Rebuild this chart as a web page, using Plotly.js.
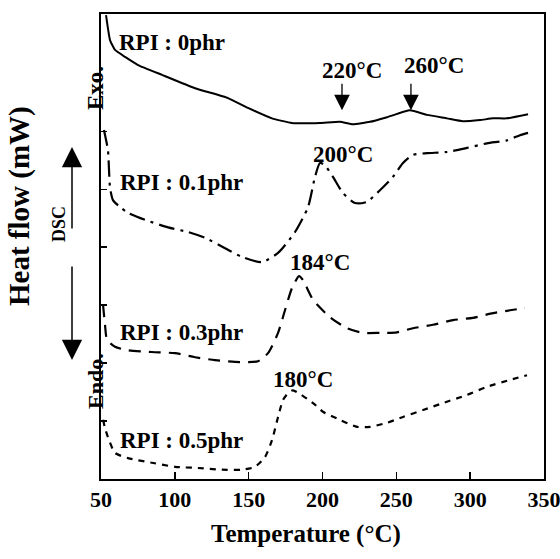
<!DOCTYPE html>
<html>
<head>
<meta charset="utf-8">
<script src="https://cdn.plot.ly/plotly-3.0.1.min.js"></script>
<style>html,body{margin:0;padding:0;background:#fff;}#chart{width:560px;height:559px;}</style>
</head>
<body>
<div id="chart"></div>
<script>
// Temperature (°C) and heat flow (arbitrary units)
var t0   = [53.4,56.1,59.5,66.3,75.1,91.3,113.7,136.0,149.5,165.8,179.3,198.3,211.8,220.6,232.2,243.7,259.2,270.8,284.3,295.1,306.7,315.5,324.9,339.2];
var hf0  = [8.0,7.57,7.40,7.28,7.14,6.97,6.74,6.57,6.40,6.22,6.14,6.14,6.16,6.12,6.16,6.24,6.36,6.28,6.22,6.17,6.19,6.22,6.22,6.29];

var t01  = [52.0,54.7,56.1,58.1,62.9,68.3,79.8,95.4,108.9,120.4,134.0,145.5,159.0,169.9,181.4,190.2,194.9,198.3,201.7,207.1,213.9,222.0,230.1,238.9,247.7,254.5,261.3,270.8,284.3,297.8,311.4,324.9,333.7,339.2];
var hf01 = [6.02,5.67,5.03,4.81,4.69,4.59,4.47,4.34,4.26,4.16,3.98,3.83,3.74,3.90,4.26,4.69,5.21,5.45,5.41,5.21,4.93,4.76,4.78,4.98,5.21,5.45,5.59,5.62,5.64,5.71,5.79,5.84,5.93,5.97];

var t03  = [51.4,52.7,54.1,59.5,68.3,84.5,100.1,113.7,127.2,140.7,156.3,163.1,169.9,174.6,179.3,184.1,186.8,193.6,205.1,216.6,227.4,238.9,250.4,261.3,274.8,288.4,301.9,315.5,327.0,337.1];
var hf03 = [3.0,2.66,2.40,2.28,2.22,2.19,2.17,2.10,2.05,2.02,2.03,2.17,2.52,2.91,3.29,3.50,3.43,3.09,2.79,2.60,2.52,2.52,2.53,2.60,2.66,2.74,2.78,2.86,2.91,2.95];

var t05  = [51.4,52.7,54.7,59.5,68.3,84.5,100.1,115.7,131.9,145.5,154.3,161.1,165.8,169.9,173.2,176.6,180.0,193.6,200.3,211.8,223.4,232.2,243.7,254.5,268.1,281.6,297.8,311.4,327.0,338.5];
var hf05 = [1.02,0.88,0.72,0.45,0.36,0.28,0.21,0.19,0.16,0.16,0.21,0.38,0.67,1.07,1.36,1.48,1.53,1.31,1.16,1.02,0.90,0.90,0.97,1.07,1.19,1.31,1.45,1.59,1.71,1.79];

var xTicks = [50,100,150,200,250,300,350];
var yTicks = [1,2,3,4,5,6];

var serif = 'Liberation Serif, Times New Roman, serif';

var traces = [
  {x:t0, y:hf0, mode:'lines', line:{color:'#000', width:2, shape:'spline', smoothing:0.4}, name:'0phr'},
  {x:t01, y:hf01, mode:'lines', line:{color:'#000', width:2.2, dash:'16px,6px,3px,6px', shape:'spline', smoothing:0.6}, name:'0.1phr'},
  {x:t03, y:hf03, mode:'lines', line:{color:'#000', width:2.2, dash:'12px,8px', shape:'spline', smoothing:0.6}, name:'0.3phr'},
  {x:t05, y:hf05, mode:'lines', line:{color:'#000', width:2.2, dash:'6px,6px', shape:'spline', smoothing:0.6}, name:'0.5phr'}
];

function lab(text, x, y, size, xanchor){
  return {text:text, x:x, y:y, xref:'x', yref:'y', showarrow:false,
    xanchor:xanchor||'center', yanchor:'middle',
    font:{family:serif, size:size, color:'#000'}};
}
function px2paperX(p){ return (p-101)/443; }
function px2paperY(p){ return (479-p)/465; }

var ann = [
  lab('<b>RPI : 0phr</b>', 60.8, 7.53, 23, 'left'),
  lab('<b>RPI : 0.1phr</b>', 61.5, 5.12, 23, 'left'),
  lab('<b>RPI : 0.3phr</b>', 61.5, 2.52, 23, 'left'),
  lab('<b>RPI : 0.5phr</b>', 61.5, 0.67, 23, 'left'),
  lab('<b>220°C</b>', 220.0, 7.05, 23),
  lab('<b>260°C</b>', 275.5, 7.14, 23),
  lab('<b>200°C</b>', 213.9, 5.59, 23),
  lab('<b>184°C</b>', 198.3, 3.74, 23),
  lab('<b>180°C</b>', 186.8, 1.71, 23),
  // peak arrows
  {x:213.2, y:6.36, xref:'x', yref:'y', text:'', showarrow:true, arrowhead:2, arrowsize:2.4, arrowwidth:1.3, ax:0, ay:-28, arrowcolor:'#000'},
  {x:259.9, y:6.36, xref:'x', yref:'y', text:'', showarrow:true, arrowhead:2, arrowsize:2.4, arrowwidth:1.3, ax:0, ay:-28, arrowcolor:'#000'},
  // DSC arrows
  {x:px2paperX(72), y:px2paperY(147), xref:'paper', yref:'paper', text:'', showarrow:true, arrowhead:2, arrowsize:2.7, arrowwidth:1.5, ax:0, ay:83, arrowcolor:'#000'},
  {x:px2paperX(72), y:px2paperY(360), xref:'paper', yref:'paper', text:'', showarrow:true, arrowhead:2, arrowsize:2.7, arrowwidth:1.5, ax:0, ay:-95, arrowcolor:'#000'},
  {x:px2paperX(59), y:px2paperY(224), xref:'paper', yref:'paper', text:'<b>DSC</b>', textangle:-90, showarrow:false, xanchor:'center', yanchor:'middle', font:{family:serif, size:18, color:'#000'}},
  {x:px2paperX(95), y:px2paperY(88), xref:'paper', yref:'paper', text:'<b>Exo.</b>', textangle:-90, showarrow:false, xanchor:'center', yanchor:'middle', font:{family:serif, size:23, color:'#000'}},
  {x:px2paperX(95), y:px2paperY(381), xref:'paper', yref:'paper', text:'<b>Endo.</b>', textangle:-90, showarrow:false, xanchor:'center', yanchor:'middle', font:{family:serif, size:22, color:'#000'}},
  {x:px2paperX(19), y:px2paperY(206), xref:'paper', yref:'paper', text:'<b>Heat flow (mW)</b>', textangle:-90, showarrow:false, xanchor:'center', yanchor:'middle', font:{family:serif, size:29, color:'#000'}},
  {x:px2paperX(306), y:px2paperY(534), xref:'paper', yref:'paper', text:'<b>Temperature (°C)</b>', showarrow:false, xanchor:'center', yanchor:'middle', font:{family:serif, size:25, color:'#000'}}
];

var layout = {
  width:560, height:559,
  margin:{l:101, r:16, t:14, b:80, pad:0},
  paper_bgcolor:'#fff', plot_bgcolor:'#fff',
  showlegend:false,
  xaxis:{range:[50,350], tickvals:xTicks, ticktext:xTicks.map(function(v){return '<b>'+v+'</b>';}),
    ticks:'inside', ticklen:7, tickwidth:1.5, tickcolor:'#000', ticklabeloverflow:'allow',
    showline:true, linecolor:'#000', linewidth:2, mirror:true, showgrid:false, zeroline:false,
    tickfont:{family:serif, size:22, color:'#000'}},
  yaxis:{range:[0,8.02], tickvals:yTicks, showticklabels:false,
    ticks:'inside', ticklen:6, tickwidth:1.2, tickcolor:'#000',
    showline:true, linecolor:'#000', linewidth:2, mirror:true, showgrid:false, zeroline:false},
  annotations:ann
};

Plotly.newPlot('chart', traces, layout, {staticPlot:true, displayModeBar:false});
</script>
</body>
</html>
